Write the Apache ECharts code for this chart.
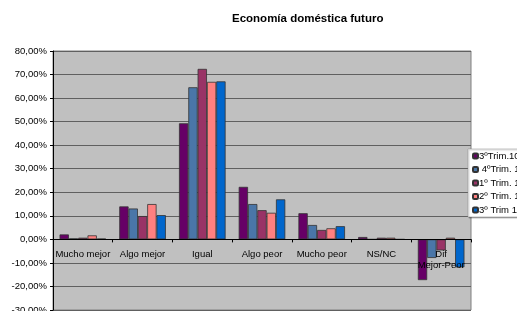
<!DOCTYPE html>
<html>
<head>
<meta charset="utf-8">
<script src="https://cdn.jsdelivr.net/npm/echarts@6/dist/echarts.min.js"></script>
<style>
  html, body { margin: 0; padding: 0; background: #fff; }
  #box { width: 517px; height: 311px; }
</style>
</head>
<body>
<div id="box"></div>
<script>
var categories = ['Mucho mejor', 'Algo mejor', 'Igual', 'Algo peor', 'Mucho peor', 'NS/NC', 'Dif\nMejor-Peor'];
var seriesNames = ['3ºTrim.10', ' 4ºTrim. 10', '1º Trim. 11', '2º Trim. 11', '3º Trim 11'];
var trim3_10 = [2.1, 14.0, 49.3, 22.3, 11.1, 1.0, -17.3];
var trim4_10 = [0.4, 13.1, 64.6, 15.0, 6.1, 0.0, -7.9];
var trim1_11 = [0.7, 9.9, 72.4, 12.4, 4.0, 0.7, -4.7];
var trim2_11 = [1.7, 15.0, 66.9, 11.3, 4.7, 0.7, 0.7];
var trim3_11 = [0.3, 10.3, 67.1, 17.0, 5.6, 0.0, -11.9];
var colors = ['#660066', '#4A76A8', '#993366', '#FF8080', '#0066CC'];

var chartDom = document.getElementById('box');
var myChart = echarts.init(chartDom);
var allData = [trim3_10, trim4_10, trim1_11, trim2_11, trim3_11];

var series = allData.map(function (d, i) {
  return {
    name: seriesNames[i],
    type: 'bar',
    barGap: '0%',
    barCategoryGap: '22%',
    itemStyle: { color: colors[i], borderColor: '#333', borderWidth: 0.8 },
    data: d
  };
});

// plot height 258px for 110 points -> zero line sits 70.4px above the bottom
var option = {
  color: colors,
  animation: false,
  title: {
    text: 'Economía doméstica futuro',
    left: 232,
    top: 13,
    padding: 0,
    textStyle: { fontFamily: 'Liberation Sans, Arial', fontSize: 11.5, fontWeight: 'bold', color: '#000' }
  },
  legend: {
    orient: 'vertical',
    left: 468,
    top: 149,
    padding: [2, 4, 2, 4],
    itemWidth: 5,
    itemHeight: 5,
    itemGap: 3.5,
    backgroundColor: '#fff',
    borderColor: '#888',
    borderWidth: 0.5,
    shadowColor: 'rgba(0,0,0,0.35)',
    shadowOffsetX: 1,
    shadowOffsetY: 1,
    shadowBlur: 1,
    textStyle: { fontFamily: 'Liberation Sans, Arial', fontSize: 9.5, color: '#000', padding: [0, 0, 0, -4] },
    data: seriesNames
  },
  grid: {
    left: 53,
    right: 46,
    top: 51,
    bottom: 1,
    outerBoundsMode: 'none',
    containLabel: false,
    show: true,
    backgroundColor: '#C0C0C0',
    borderColor: '#808080',
    borderWidth: 1
  },
  xAxis: {
    type: 'category',
    data: categories,
    position: 'bottom',
    offset: -70.6,
    z: 5,
    axisLine: { onZero: false, lineStyle: { color: '#000', width: 1 } },
    axisTick: { show: true, length: 3, lineStyle: { color: '#000' } },
    axisLabel: {
      interval: 0,
      margin: 9,
      fontFamily: 'Liberation Sans, Arial',
      fontSize: 9.5,
      color: '#000',
      lineHeight: 11
    },
    splitLine: { show: false }
  },
  yAxis: {
    type: 'value',
    min: -30,
    max: 80,
    interval: 10,
    axisLine: { show: true, lineStyle: { color: '#000' } },
    axisTick: { show: true, length: 3, lineStyle: { color: '#000' } },
    axisLabel: {
      margin: 6,
      fontFamily: 'Liberation Sans, Arial',
      fontSize: 9.5,
      color: '#000',
      formatter: function (v) { return v.toFixed(2).replace('.', ',') + '%'; }
    },
    splitLine: { show: true, lineStyle: { color: '#606060', width: 1 } }
  },
  series: series
};
option && myChart.setOption(option);
</script>
</body>
</html>
